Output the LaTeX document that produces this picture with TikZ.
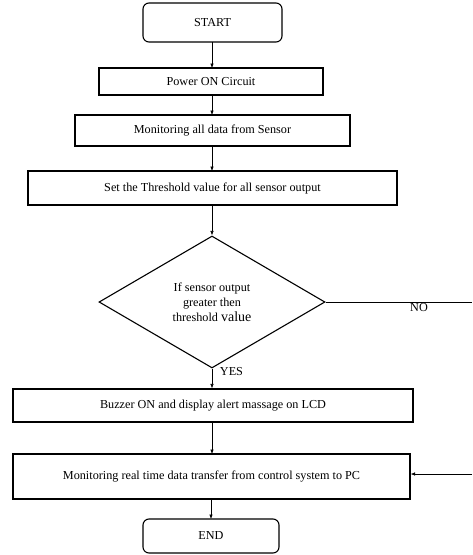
\documentclass[tikz,border=0pt]{standalone}
\usepackage{fontspec}
\setmainfont{Liberation Serif}
\usetikzlibrary{shapes.geometric,arrows.meta}
\begin{document}
\begin{tikzpicture}[x=1pt,y=-1pt,
  box/.style={draw,line width=1.1pt,inner sep=0pt,align=center,font=\fontsize{12.2}{15}\selectfont},
  term/.style={box,rounded corners=6pt},
  dec/.style={draw,diamond,line width=1.1pt,inner sep=0pt,align=center,aspect=1.71,font=\fontsize{12.2}{15}\selectfont},
  conn/.style={line width=0.6pt,-{Latex[length=4.5pt,width=3.5pt]}},
  plain/.style={line width=0.6pt},
  lbl/.style={font=\fontsize{12.2}{15}\selectfont,inner sep=0pt}]
\useasboundingbox (0,0) rectangle (472,555);
\node[term,minimum width=139pt,minimum height=39pt] (start) at (212.5,22.5) {START};
\node[box,minimum width=224pt,minimum height=27pt] (power) at (211,81.5) {Power ON Circuit};
\node[box,minimum width=275pt,minimum height=31pt] (mon) at (212.5,130.5) {Monitoring all data from Sensor};
\node[box,minimum width=369pt,minimum height=34pt] (set) at (212.5,188) {Set the Threshold value for all sensor output};
\node[dec,minimum width=226pt,minimum height=132pt] (dec) at (212,302) {If sensor output\\greater then\\threshold {\fontsize{14}{15}\selectfont value}};
\node[box,minimum width=400pt,minimum height=33pt] (buzz) at (213,405.5) {Buzzer ON and display alert massage on LCD};
\node[box,minimum width=397pt,minimum height=45pt] (real) at (211.5,476.5) {Monitoring real time data transfer from control system to PC};
\node[term,minimum width=136pt,minimum height=34pt] (end) at (211,536) {END};
\coordinate (noend) at (472,302);
\coordinate (retstart) at (472,474);
\node[lbl] (no) at (419,308) {NO};
\node[lbl] (yes) at (231.5,372) {YES};
\draw[conn] (212,42) -- (212,68);
\draw[conn] (212,95) -- (212,115);
\draw[conn] (212,146) -- (212,171);
\draw[conn] (212,205) -- (dec.north);
\draw[conn] (dec.south) -- (dec.south |- buzz.north);
\draw[conn] (212,422) -- (212,454);
\draw[conn] (211,499) -- (211,519);
\draw[plain] (dec.east) -- (noend);
\draw[conn] (retstart) -- (real.east |- retstart);
\end{tikzpicture}
\end{document}
